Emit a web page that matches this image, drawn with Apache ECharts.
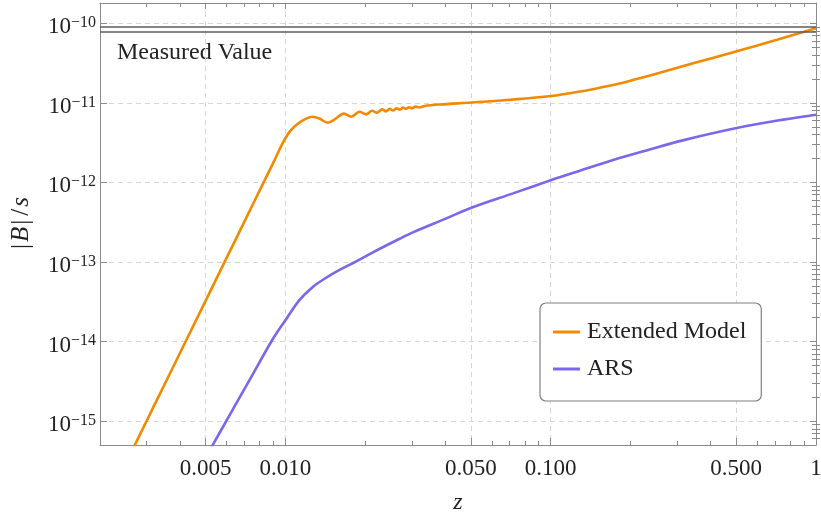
<!DOCTYPE html>
<html><head><meta charset="utf-8">
<script src="https://cdn.jsdelivr.net/npm/echarts@6/dist/echarts.min.js"></script>
<style>html,body{margin:0;padding:0;background:#fff}#c{width:821px;height:517px}</style>
</head><body><div id="c"></div>
<script>
// ---- data ----
const zExt = [0.002578, 0.00365, 0.00499, 0.005886, 0.007004, 0.008329, 0.00909, 0.009743, 0.01035, 0.0111,
  0.01197, 0.01268, 0.01343, 0.01444, 0.0153, 0.0166, 0.0177, 0.01902, 0.02016, 0.02124,
  0.02211, 0.02317, 0.02394, 0.0247, 0.02544, 0.02624, 0.02704, 0.02775, 0.02849, 0.02924,
  0.03001, 0.03094, 0.0319, 0.03345, 0.03813, 0.0502, 0.0681, 0.1003, 0.1287, 0.1531,
  0.1936, 0.2578, 0.3443, 0.4989, 0.7124, 1.0];
const bExt = [3.6e-16, 3.82e-15, 3.2e-14, 9.86e-14, 3.21e-13, 1.047e-12, 1.891e-12, 3.076e-12, 4.29e-12, 5.41e-12,
  6.33e-12, 6.69e-12, 6.35e-12, 5.62e-12, 6.17e-12, 7.33e-12, 6.68e-12, 7.73e-12, 7.17e-12, 7.96e-12,
  7.51e-12, 8.28e-12, 7.82e-12, 8.40e-12, 8.0e-12, 8.53e-12, 8.21e-12, 8.70e-12, 8.40e-12, 8.80e-12,
  8.58e-12, 8.96e-12, 8.75e-12, 9.12e-12, 9.52e-12, 1.009e-11, 1.084e-11, 1.218e-11, 1.387e-11, 1.553e-11,
  1.848e-11, 2.384e-11, 3.14e-11, 4.42e-11, 6.22e-11, 8.68e-11];
const zArs = [0.005164, 0.006146, 0.007312, 0.008908, 0.0100, 0.01129, 0.01268, 0.01424, 0.01599, 0.01849,
  0.02136, 0.02693, 0.03022, 0.04041, 0.05022, 0.07208, 0.1006, 0.1287, 0.1718, 0.2297,
  0.3147, 0.5022, 0.7527, 1.0];
const bArs = [4.19e-16, 1.17e-15, 3.25e-15, 1.038e-14, 1.853e-14, 3.31e-14, 4.86e-14, 6.33e-14, 7.93e-14, 1.017e-13,
  1.32e-13, 1.957e-13, 2.357e-13, 3.53e-13, 4.8e-13, 7.28e-13, 1.07e-12, 1.40e-12, 1.91e-12, 2.526e-12,
  3.375e-12, 4.82e-12, 6.15e-12, 7.09e-12];
const measuredBand = [8.0e-11, 9.2e-11];
const seriesNames = ['Extended Model', 'ARS'];
const xRange = [0.002, 1];
const yRange = [5e-16, 1.8e-10];
const xMajorTicks = [0.005, 0.01, 0.05, 0.1, 0.5, 1];
const xMajorLabels = ['0.005', '0.010', '0.050', '0.100', '0.500', '1'];
const xMinorTicks = [0.003, 0.004, 0.006, 0.007, 0.008, 0.009, 0.02, 0.03, 0.04, 0.06, 0.07, 0.08, 0.09,
  0.2, 0.3, 0.4, 0.6, 0.7, 0.8, 0.9];
const yMajorTicks = [1e-15, 1e-14, 1e-13, 1e-12, 1e-11, 1e-10];
const yMajorExps = ['−15', '−14', '−13', '−12', '−11', '−10'];
const yMinorTicks = [6e-16, 7e-16, 8e-16, 9e-16,
  2e-15, 3e-15, 4e-15, 5e-15, 6e-15, 7e-15, 8e-15, 9e-15,
  2e-14, 3e-14, 4e-14, 5e-14, 6e-14, 7e-14, 8e-14, 9e-14,
  2e-13, 3e-13, 4e-13, 5e-13, 6e-13, 7e-13, 8e-13, 9e-13,
  2e-12, 3e-12, 4e-12, 5e-12, 6e-12, 7e-12, 8e-12, 9e-12,
  2e-11, 3e-11, 4e-11, 5e-11, 6e-11, 7e-11, 8e-11, 9e-11];

// ---- chart ----
const L = Math.log10;
const FONT = '"Liberation Serif", "DejaVu Serif", serif';
const frame = '#8a8a8a';
const txt = '#222';
const xMin = L(xRange[0]), xMax = L(xRange[1]);
const yMin = L(yRange[0]), yMax = L(yRange[1]);

function findIdx(arr, v) {
  for (let i = 0; i < arr.length; i++) if (Math.abs(L(arr[i]) - v) < 1e-6) return i;
  return -1;
}

function xAxisOf(pos, vals, len, opts) {
  return Object.assign({
    type: 'value', position: pos, min: xMin, max: xMax,
    axisLine: { show: true, onZero: false, lineStyle: { color: frame, width: 1 } },
    axisTick: { show: true, inside: true, length: len, customValues: vals.map(L), lineStyle: { color: frame, width: 1 } },
    axisLabel: { show: false },
    splitLine: { show: false }
  }, opts || {});
}
function yAxisOf(pos, vals, len, opts) {
  return Object.assign({
    type: 'value', position: pos, min: yMin, max: yMax,
    axisLine: { show: true, onZero: false, lineStyle: { color: frame, width: 1 } },
    axisTick: { show: true, inside: true, length: len, customValues: vals.map(L), lineStyle: { color: frame, width: 1 } },
    axisLabel: { show: false },
    splitLine: { show: false }
  }, opts || {});
}

const gridDash = { color: '#d6d6d6', width: 1, type: [5, 4] };

const option = {
  animation: false,
  backgroundColor: '#fff',
  grid: { left: 100, right: 5, top: 3, bottom: 72, containLabel: false, outerBoundsMode: 'none' },
  legend: {
    orient: 'vertical', left: 540, top: 303,
    padding: [16, 15, 19, 13], itemGap: 11, itemWidth: 27, itemHeight: 3, icon: 'rect',
    backgroundColor: '#fff', borderColor: '#808080', borderWidth: 1.2, borderRadius: 6,
    textStyle: { fontFamily: FONT, fontSize: 24, color: txt, lineHeight: 26, padding: [0, 0, 0, 2] },
    data: seriesNames
  },
  graphic: [{
    type: 'text', left: 117, top: 41, silent: true,
    style: { text: 'Measured Value', font: '24px ' + FONT, fill: txt }
  }],
  xAxis: [
    xAxisOf('bottom', xMajorTicks, 7, {
      name: 'z', nameLocation: 'middle', nameGap: 46,
      nameTextStyle: { fontFamily: FONT, fontSize: 24, fontStyle: 'italic', color: txt },
      axisLabel: {
        show: true, customValues: xMajorTicks.map(L), margin: 12,
        fontFamily: FONT, fontSize: 23, color: txt,
        formatter: v => { const i = findIdx(xMajorTicks, v); return i >= 0 ? xMajorLabels[i] : ''; }
      },
      splitLine: { show: true, lineStyle: gridDash }
    }),
    xAxisOf('bottom', xMinorTicks, 4, { axisLine: { show: false } }),
    xAxisOf('top', xMajorTicks, 6),
    xAxisOf('top', xMinorTicks, 4, { axisLine: { show: false } })
  ],
  yAxis: [
    yAxisOf('left', yMajorTicks, 7, {
      name: '{n||}{i|B}{n||}{n|/}{i|s}', nameLocation: 'middle', nameGap: 66,
      nameTextStyle: {
        fontFamily: FONT, fontSize: 25, color: txt,
        rich: {
          n: { fontFamily: FONT, fontSize: 25, color: txt, fontStyle: 'normal', padding: [0, 2, 0, 2] },
          i: { fontFamily: FONT, fontSize: 25, color: txt, fontStyle: 'italic' }
        }
      },
      axisLabel: {
        show: true, customValues: yMajorTicks.map(L), margin: 4, padding: [7, 0, 0, 0],
        formatter: v => { const i = findIdx(yMajorTicks, v); return i >= 0 ? '{b|10}{e|' + yMajorExps[i] + '}' : ''; },
        rich: {
          b: { fontFamily: FONT, fontSize: 23, color: txt, lineHeight: 24, verticalAlign: 'bottom' },
          e: { fontFamily: FONT, fontSize: 16, color: txt, lineHeight: 12, verticalAlign: 'top' }
        }
      },
      splitLine: { show: true, lineStyle: gridDash }
    }),
    yAxisOf('left', yMinorTicks, 4, { axisLine: { show: false } }),
    yAxisOf('right', yMajorTicks, 6),
    yAxisOf('right', yMinorTicks, 4, { axisLine: { show: false } })
  ],
  series: [
    {
      name: seriesNames[0], type: 'line', xAxisIndex: 0, yAxisIndex: 0,
      symbol: 'none', smooth: 0.35, clip: true,
      lineStyle: { color: '#F28A00', width: 2.6 }, itemStyle: { color: '#F28A00' },
      data: zExt.map((z, i) => [L(z), L(bExt[i])]),
      markLine: {
        silent: true, symbol: ['none', 'none'], label: { show: false },
        lineStyle: { color: '#5c5c5c', width: 1.6, type: 'solid' },
        emphasis: { disabled: true },
        data: measuredBand.map(v => ({ yAxis: L(v) }))
      },
      z: 3
    },
    {
      name: seriesNames[1], type: 'line', xAxisIndex: 0, yAxisIndex: 0,
      symbol: 'none', smooth: 0.35, clip: true,
      lineStyle: { color: '#7B66EE', width: 2.6 }, itemStyle: { color: '#7B66EE' },
      data: zArs.map((z, i) => [L(z), L(bArs[i])]),
      z: 2
    }
  ]
};

const chart = echarts.init(document.getElementById('c'), null, { renderer: 'canvas' });
chart.setOption(option);
</script>
</body></html>
